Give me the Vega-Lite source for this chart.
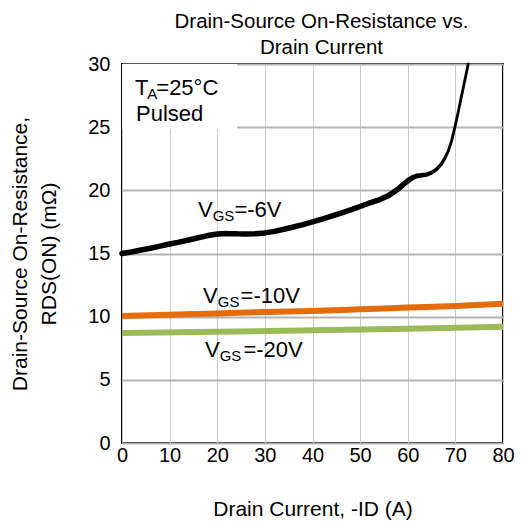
{
  "$schema": "https://vega.github.io/schema/vega-lite/v6.json",
  "width": 381,
  "height": 379,
  "autosize": {"type": "none"},
  "padding": {"left": 122, "top": 64, "right": 21, "bottom": 79},
  "background": "white",
  "title": {
    "text": ["Drain-Source On-Resistance vs.", "Drain Current"],
    "fontSize": 20.5,
    "font": "Liberation Sans",
    "fontWeight": "normal",
    "color": "black",
    "anchor": "middle",
    "offset": -4,
    "dx": 9,
    "lineHeight": 26
  },
  "config": {
    "font": "Liberation Sans",
    "view": {"stroke": "black", "strokeWidth": 2},
    "axis": {
      "labelFont": "Liberation Sans",
      "titleFont": "Liberation Sans",
      "labelColor": "black",
      "titleColor": "black",
      "labelFontSize": 20,
      "titleFontSize": 21,
      "titleFontWeight": "normal",
      "labelFlush": false,
      "domain": false,
      "ticks": false
    }
  },
  "datasets": {
    "curves": [
      {"vgs": "-10V", "x": 0, "y": 10.05},
      {"vgs": "-10V", "x": 10, "y": 10.15},
      {"vgs": "-10V", "x": 20, "y": 10.25},
      {"vgs": "-10V", "x": 30, "y": 10.37},
      {"vgs": "-10V", "x": 40, "y": 10.45},
      {"vgs": "-10V", "x": 50, "y": 10.58},
      {"vgs": "-10V", "x": 60, "y": 10.72},
      {"vgs": "-10V", "x": 70, "y": 10.85},
      {"vgs": "-10V", "x": 80, "y": 11.02},
      {"vgs": "-20V", "x": 0, "y": 8.7},
      {"vgs": "-20V", "x": 20, "y": 8.8},
      {"vgs": "-20V", "x": 40, "y": 8.92},
      {"vgs": "-20V", "x": 60, "y": 9.05},
      {"vgs": "-20V", "x": 80, "y": 9.2}
    ],
    "black": [
      {"x": 0, "y": 15.0},
      {"x": 2, "y": 15.12},
      {"x": 4, "y": 15.28},
      {"x": 6, "y": 15.42},
      {"x": 8, "y": 15.58},
      {"x": 10, "y": 15.75},
      {"x": 12, "y": 15.9},
      {"x": 14, "y": 16.07},
      {"x": 16, "y": 16.25},
      {"x": 18, "y": 16.42},
      {"x": 20, "y": 16.55},
      {"x": 22, "y": 16.58},
      {"x": 24, "y": 16.56},
      {"x": 26, "y": 16.55},
      {"x": 28, "y": 16.57},
      {"x": 30, "y": 16.63},
      {"x": 32, "y": 16.75},
      {"x": 34, "y": 16.92},
      {"x": 36, "y": 17.1},
      {"x": 38, "y": 17.28},
      {"x": 40, "y": 17.5},
      {"x": 42, "y": 17.72},
      {"x": 44, "y": 17.95},
      {"x": 46, "y": 18.2},
      {"x": 48, "y": 18.45},
      {"x": 50, "y": 18.72},
      {"x": 52, "y": 19.0},
      {"x": 54, "y": 19.25},
      {"x": 56, "y": 19.6},
      {"x": 58, "y": 20.1},
      {"x": 59, "y": 20.45},
      {"x": 60, "y": 20.75},
      {"x": 61, "y": 21.0},
      {"x": 62, "y": 21.15},
      {"x": 63, "y": 21.2},
      {"x": 64, "y": 21.25},
      {"x": 65, "y": 21.4},
      {"x": 66, "y": 21.65},
      {"x": 67, "y": 22.05},
      {"x": 67.8, "y": 22.55},
      {"x": 68.5, "y": 23.1},
      {"x": 69.2, "y": 23.9},
      {"x": 69.9, "y": 25.0},
      {"x": 70.6, "y": 26.2},
      {"x": 71.2, "y": 27.3},
      {"x": 71.7, "y": 28.2},
      {"x": 72.2, "y": 29.1},
      {"x": 72.7, "y": 30.0}
    ],
    "mainText": [
      {"t": "V", "x": 15.96, "y": 17.9},
      {"t": "=-6V", "x": 23.6, "y": 17.9},
      {"t": "V", "x": 17.0, "y": 11.08},
      {"t": "=-10V", "x": 24.9, "y": 11.08},
      {"t": "V", "x": 17.43, "y": 6.81},
      {"t": "=-20V", "x": 25.5, "y": 6.81},
      {"t": "T", "x": 2.73, "y": 27.55},
      {"t": "=25°C", "x": 7.2, "y": 27.55},
      {"t": "Pulsed", "x": 2.94, "y": 25.51}
    ],
    "subText": [
      {"t": "GS", "x": 19.04, "y": 17.58},
      {"t": "GS", "x": 20.1, "y": 10.77},
      {"t": "GS", "x": 20.5, "y": 6.49},
      {"t": "A", "x": 5.3, "y": 27.25}
    ],
    "box": [
      {"x0": 0, "x1": 24.2, "y0": 24.85, "y1": 30}
    ]
  },
  "layer": [
    {
      "data": {"name": "box"},
      "mark": {"type": "rect", "fill": "white", "stroke": null},
      "encoding": {
        "x": {"field": "x0", "type": "quantitative", "scale": {"domain": [0, 80]},
              "axis": {"values": [0,10,20,30,40,50,60,70,80], "grid": true, "gridColor": "#cccccc", "gridWidth": 1, "labelPadding": 2, "title": "Drain Current, -ID (A)", "titlePadding": 33, "titleFontSize": 21}},
        "x2": {"field": "x1"},
        "y": {"field": "y0", "type": "quantitative", "scale": {"domain": [0, 30]},
              "axis": {"values": [0,5,10,15,20,25,30], "grid": true, "gridColor": "#b3b3b3", "gridWidth": 2, "labelPadding": 12, "title": ["Drain-Source On-Resistance,", "RDS(ON) (mΩ)"], "titlePadding": 28, "titleLineHeight": 29}},
        "y2": {"field": "y1"}
      }
    },
    {
      "data": {"name": "curves"},
      "mark": {"type": "line", "strokeWidth": 6, "interpolate": "monotone"},
      "encoding": {
        "x": {"field": "x", "type": "quantitative"},
        "y": {"field": "y", "type": "quantitative"},
        "color": {"field": "vgs", "type": "nominal", "legend": null,
                  "scale": {"domain": ["-10V", "-20V"], "range": ["#E46C0A", "#9BBB59"]}}
      }
    },
    {
      "data": {"name": "black"},
      "mark": {"type": "trail", "color": "black"},
      "encoding": {
        "x": {"field": "x", "type": "quantitative"},
        "y": {"field": "y", "type": "quantitative"},
        "order": {"field": "x", "type": "quantitative"},
        "size": {"field": "x", "type": "quantitative", "legend": null,
                 "scale": {"type": "linear", "domain": [60, 69], "range": [5.5, 2.8], "clamp": true}}
      }
    },
    {
      "data": {"name": "mainText"},
      "mark": {"type": "text", "align": "left", "baseline": "alphabetic", "fontSize": 22, "font": "Liberation Sans", "color": "black"},
      "encoding": {
        "x": {"field": "x", "type": "quantitative"},
        "y": {"field": "y", "type": "quantitative"},
        "text": {"field": "t"}
      }
    },
    {
      "data": {"name": "subText"},
      "mark": {"type": "text", "align": "left", "baseline": "alphabetic", "fontSize": 15, "font": "Liberation Sans", "color": "black"},
      "encoding": {
        "x": {"field": "x", "type": "quantitative"},
        "y": {"field": "y", "type": "quantitative"},
        "text": {"field": "t"}
      }
    }
  ]
}
